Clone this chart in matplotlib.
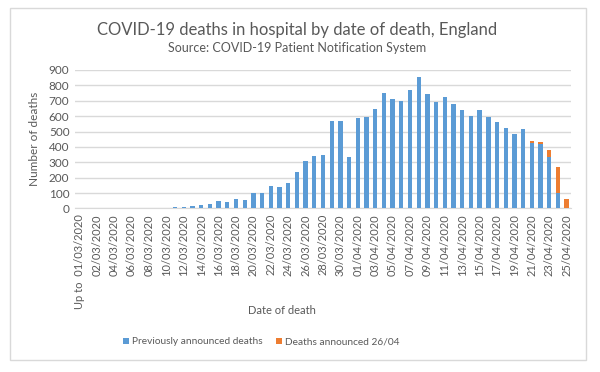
import matplotlib
matplotlib.use("Agg")
import matplotlib.pyplot as plt
from matplotlib.patches import Rectangle
import pandas as pd

# categories: first bucket, then one per day
dates = ["Up to  01/03/2020"] + list(pd.date_range("2020-03-01", "2020-04-25").strftime("%d/%m/%Y"))

# previously announced deaths
previous = [0, 0, 0, 0, 0, 0, 0, 0, 0, 0, 0,
            7, 7, 15, 22, 28, 46, 41, 61, 56, 100,
            98, 143, 137, 167, 234, 308, 343, 347, 568, 568,
            336, 586, 597, 644, 748, 709, 698, 770, 852, 742,
            694, 724, 677, 640, 603, 640, 597, 564, 525, 484,
            516, 423, 419, 336, 102, 0]

# deaths announced 26/04
new = [0] * 52 + [17, 15, 44, 169, 61]

blue = "#5b9bd5"
orange = "#ed7d31"
grey = "#595959"

plt.rcParams['font.family'] = ['Lato', 'DejaVu Sans']

fig = plt.figure(figsize=(6, 3.72), dpi=100)
fig.patch.set_facecolor("white")
fig.patches.append(Rectangle((10 / 600, 1 - 360 / 372), 576 / 600, 352 / 372,
                             transform=fig.transFigure, fill=False,
                             edgecolor="#d9d9d9", linewidth=1))

ax = fig.add_axes([75 / 600, 1 - 208.5 / 372, 496 / 600, 138.5 / 372])

x = range(len(dates))
ax.bar(x, previous, width=0.5, color=blue, label="Previously announced deaths", zorder=3)
ax.bar(x, new, width=0.5, bottom=previous, color=orange, label="Deaths announced 26/04", zorder=3)

ax.set_xlim(-0.5, len(dates) - 0.5)
ax.set_ylim(0, 900)
ax.set_yticks(range(0, 901, 100))
ax.grid(axis="y", color="#d9d9d9", linewidth=1, zorder=0)
for s in ["top", "right", "left"]:
    ax.spines[s].set_visible(False)
ax.spines["bottom"].set_color("#d9d9d9")

ax.set_xticks(list(x)[::2])
ax.set_xticklabels(dates[::2], rotation=90, fontsize=8, color=grey)
ax.tick_params(axis="both", length=0, pad=4)
ax.tick_params(axis="y", labelsize=8.5, labelcolor=grey)

ax.set_ylabel("Number of deaths", fontsize=8.5, color=grey, labelpad=6)

fig.text(297 / 600, 1 - 30 / 372, "COVID-19 deaths in hospital by date of death, England",
         ha="center", va="center", fontsize=12, color=grey)
fig.text(297 / 600, 1 - 48 / 372, "Source: COVID-19 Patient Notification System",
         ha="center", va="center", fontsize=9, color=grey)
fig.text(282 / 600, 1 - 310 / 372, "Date of death", ha="center", va="center",
         fontsize=8, color=grey)

fig.legend(loc="center", bbox_to_anchor=(261 / 600, 1 - 342 / 372), ncol=2,
           frameon=False, fontsize=7.3, handlelength=0.6, handleheight=0.6,
           handletextpad=0.3, columnspacing=1.3, labelcolor=grey)

fig.savefig("out.png", dpi=100)
